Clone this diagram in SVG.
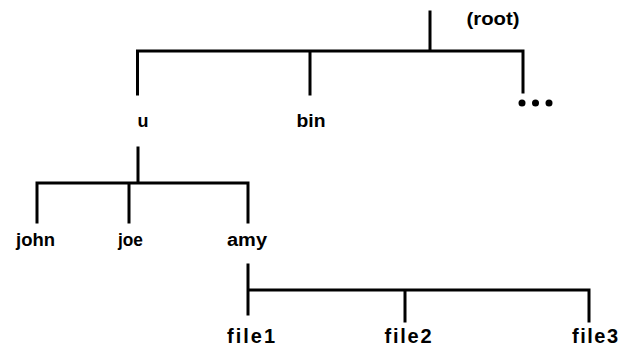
<svg xmlns="http://www.w3.org/2000/svg" width="634" height="348" viewBox="0 0 634 348">
<style>
.ln{stroke:#000;stroke-width:3;fill:none;stroke-linecap:square}
.lb{font-family:"Liberation Sans",Arial,sans-serif;font-weight:bold;font-size:18px;fill:#000;text-anchor:middle}
.fl{font-size:20px}
</style>
<rect width="634" height="348" fill="#fff"/>
<g id="connectors">
<path class="ln" d="M430 12V51M137.5 51H523M137.5 51V94M310 51V94M523 51V92"/>
<path class="ln" d="M138 148V183M37 183H248M37 183V222M129 183V222M248 183V222"/>
<path class="ln" d="M248 265V314M248 290H589M405 290V321M589 290V321"/>
</g>
<g id="root"><text class="lb" x="493" y="25" textLength="53" lengthAdjust="spacingAndGlyphs">(root)</text></g>
<g id="u"><text class="lb" x="143" y="127">u</text></g>
<g id="bin"><text class="lb" x="311" y="127" textLength="29" lengthAdjust="spacingAndGlyphs">bin</text></g>
<g id="more"><circle cx="522" cy="103" r="3.5"/><circle cx="535.5" cy="103" r="3.5"/><circle cx="549" cy="103" r="3.5"/></g>
<g id="john"><text class="lb" x="35.5" y="246" textLength="39" lengthAdjust="spacingAndGlyphs">john</text></g>
<g id="joe"><text class="lb" x="130.5" y="246" textLength="25" lengthAdjust="spacingAndGlyphs">joe</text></g>
<g id="amy"><text class="lb" x="247" y="246" textLength="40" lengthAdjust="spacingAndGlyphs">amy</text></g>
<g id="file1"><text class="lb fl" x="251" y="343" textLength="48" lengthAdjust="spacing">file1</text></g>
<g id="file2"><text class="lb fl" x="408" y="343" textLength="47" lengthAdjust="spacing">file2</text></g>
<g id="file3"><text class="lb fl" x="595" y="343" textLength="46" lengthAdjust="spacing">file3</text></g>
</svg>
